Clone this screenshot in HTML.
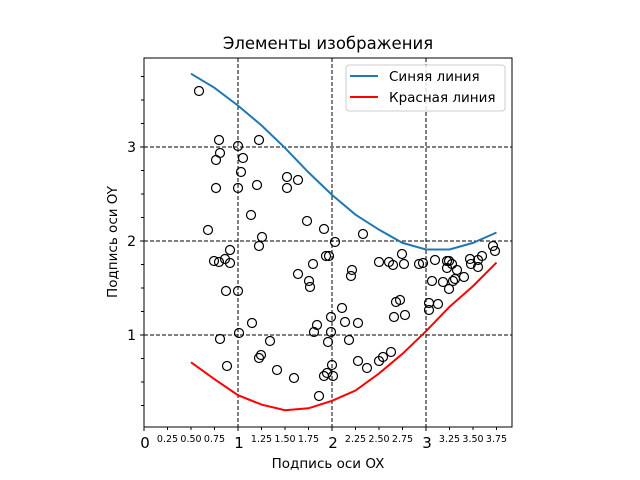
<!DOCTYPE html>
<html><head><meta charset="utf-8"><style>
html,body{margin:0;padding:0;background:#fff;}
svg{display:block;font-family:"DejaVu Sans","Liberation Sans",sans-serif;}
</style></head><body>
<svg id="chart" width="640" height="480" xmlns="http://www.w3.org/2000/svg">
<rect width="640" height="480" fill="#fff"/>
<text x="328" y="49" font-size="16.5" text-anchor="middle">Элементы изображения</text>
<text x="328" y="468" font-size="13.5" text-anchor="middle">Подпись оси OX</text>
<text x="0" y="0" font-size="13.5" text-anchor="middle" transform="translate(117,242) rotate(-90)">Подпись оси OY</text>
<g id="grid"></g>
<g id="series"></g>
<g id="axes"></g>
<g>
<rect x="346" y="65" width="159" height="46" rx="3" fill="#fff" fill-opacity="0.85" stroke="#ccc"/>
<line x1="350" y1="76" x2="378" y2="76" stroke="#1f77b4" stroke-width="2"/>
<text x="389" y="81" font-size="13.5">Синяя линия</text>
<line x1="350" y1="97" x2="378" y2="97" stroke="#ff0000" stroke-width="2"/>
<text x="389" y="102" font-size="13.5">Красная линия</text>
</g>
</svg>
<script>
const lineX = [0.5,0.75,1,1.25,1.5,1.75,2,2.25,2.5,2.75,3,3.25,3.5,3.75];
const blueY = [3.78,3.63,3.44,3.23,2.99,2.73,2.49,2.28,2.12,1.98,1.91,1.91,1.98,2.09];
const redY = [0.71,0.53,0.36,0.26,0.20,0.22,0.30,0.41,0.59,0.80,1.04,1.30,1.52,1.77];
const scatterX = [0.585,0.798,1.223,1.000,0.809,0.766,1.053,1.032,1.521,1.638,1.202,0.766,1.000,1.521,1.138,1.734,1.915,0.681,1.255,1.223,0.915,0.745,0.798,0.862,0.915,0.872,1.000,1.638,1.755,1.766,1.798,1.936,1.968,1.149,1.011,0.809,1.340,1.840,1.809,1.989,1.989,1.957,1.245,1.223,0.883,1.415,1.596,1.862,1.915,1.947,2.000,2.011,2.032,2.330,2.213,2.202,2.500,2.606,2.649,2.745,2.766,2.926,2.968,3.096,3.223,3.245,3.277,3.223,3.330,3.468,3.479,3.553,3.553,3.596,3.713,3.734,3.064,3.181,3.245,3.287,3.309,3.404,2.681,2.723,2.660,2.777,3.032,3.128,3.032,2.106,2.138,2.277,2.181,2.277,2.372,2.500,2.543,2.628];
const scatterY = [3.596,3.074,3.074,3.011,2.936,2.862,2.883,2.734,2.681,2.649,2.596,2.564,2.564,2.564,2.277,2.213,2.128,2.117,2.043,1.947,1.904,1.787,1.777,1.809,1.766,1.468,1.468,1.649,1.574,1.511,1.755,1.840,1.840,1.128,1.021,0.957,0.936,1.106,1.032,1.191,1.032,0.926,0.787,0.755,0.670,0.628,0.543,0.351,0.564,0.596,0.681,0.564,1.989,2.074,1.691,1.628,1.777,1.777,1.745,1.862,1.755,1.755,1.766,1.798,1.787,1.787,1.755,1.713,1.691,1.809,1.755,1.798,1.723,1.840,1.947,1.894,1.574,1.564,1.489,1.574,1.596,1.617,1.351,1.372,1.191,1.213,1.340,1.330,1.266,1.287,1.138,1.128,0.947,0.723,0.649,0.723,0.766,0.819];
const majorX = [0,1,2,3];
const majorXLabels = ["0","1","2","3"];
const minorX = [0.25,0.5,0.75,1.25,1.5,1.75,2.25,2.5,2.75,3.25,3.5,3.75];
const minorXLabels = ["0.25","0.50","0.75","1.25","1.50","1.75","2.25","2.50","2.75","3.25","3.50","3.75"];
const majorY = [1,2,3];
const majorYLabels = ["1","2","3"];
const minorY = [0.25,0.5,0.75,1.25,1.5,1.75,2.25,2.5,2.75,3.25,3.5,3.75];

const NS="http://www.w3.org/2000/svg";
const L=144,R=512,T=58,B=427;
const sx=v=>144+94*v, sy=v=>429-94*v;
function mk(tag,attrs,parent){const e=document.createElementNS(NS,tag);for(const k in attrs)e.setAttribute(k,attrs[k]);parent.appendChild(e);return e;}
const grid=document.getElementById('grid'),series=document.getElementById('series'),axes=document.getElementById('axes');
majorX.forEach((v,i)=>{if(v===0)return;
 const g=mk('line',{x1:sx(v),x2:sx(v),y1:T,y2:B,stroke:'#000','stroke-width':1,'stroke-dasharray':'4,2'},grid);
 
 });
majorY.forEach(v=>{
 const g=mk('line',{x1:L,x2:R,y1:sy(v),y2:sy(v),stroke:'#000','stroke-width':1,'stroke-dasharray':'4,2'},grid);
 
 });
function path(xs,ys,color,name){
 const d=xs.map((x,i)=>(i?'L':'M')+sx(x).toFixed(1)+','+sy(ys[i]).toFixed(1)).join('');
 const p=mk('path',{d:d,fill:'none',stroke:color,'stroke-width':2},series);
 
 }
path(lineX,blueY,'#1f77b4','blue-line');
path(lineX,redY,'#ff0000','red-line');
scatterX.forEach((x,i)=>{
 const c=mk('circle',{cx:sx(x).toFixed(1),cy:sy(scatterY[i]).toFixed(1),r:4.5,fill:'none',stroke:'#000','stroke-width':1.2},series);
 
 });
const fr=mk('rect',{x:L,y:T,width:R-L,height:B-T,fill:'none',stroke:'#000','stroke-width':1},axes);


majorX.forEach((v,i)=>{
 mk('line',{x1:sx(v),x2:sx(v),y1:B,y2:B+4,stroke:'#000'},axes);
 const t=mk('text',{x:sx(v)+1,y:B+21,'font-size':15,'text-anchor':'middle'},axes);
 t.textContent=majorXLabels[i];
 
 });
minorX.forEach((v,i)=>{
 mk('line',{x1:sx(v),x2:sx(v),y1:B,y2:B+3,stroke:'#000'},axes);
 const t=mk('text',{x:sx(v),y:B+15,'font-size':9.5,'text-anchor':'middle'},axes);
 t.textContent=minorXLabels[i];
 
 });
majorY.forEach((v,i)=>{
 mk('line',{x1:L-4,x2:L,y1:sy(v),y2:sy(v),stroke:'#000'},axes);
 const t=mk('text',{x:L-8,y:sy(v)+5,'font-size':14,'text-anchor':'end'},axes);
 t.textContent=majorYLabels[i];
 
 });
minorY.forEach(v=>{mk('line',{x1:L-3,x2:L,y1:sy(v),y2:sy(v),stroke:'#000'},axes);});
</script>
</body></html>
